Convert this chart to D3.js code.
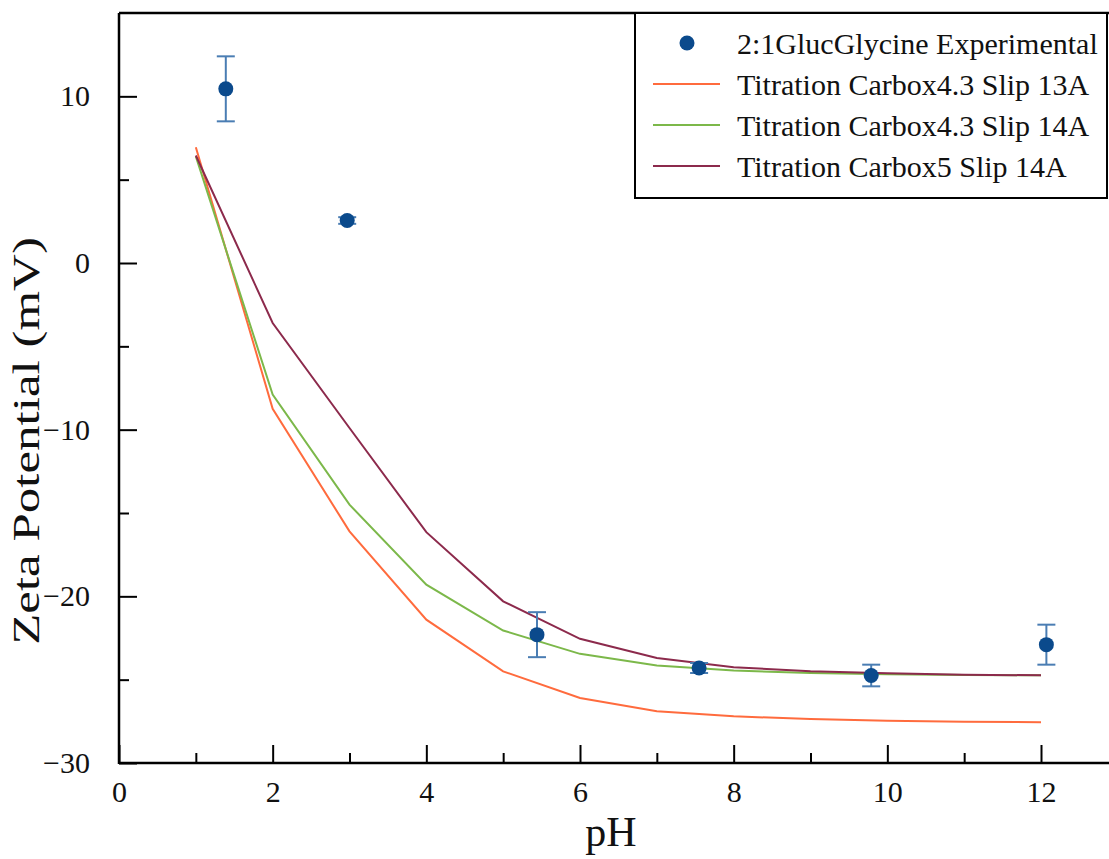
<!DOCTYPE html>
<html>
<head>
<meta charset="utf-8">
<script src="https://cdn.jsdelivr.net/npm/d3@7"></script>
<style>
  html, body { margin: 0; padding: 0; background: #fff; }
  svg { display: block; }
  svg text { font-family: "Liberation Serif", "Times New Roman", serif !important; }
</style>
</head>
<body>
<svg id="chart" width="1109" height="859"></svg>
<script>
// ---- data ----
const expPH    = [1.39, 2.97, 5.44, 7.55, 9.79, 12.07];
const expZeta  = [10.45, 2.55, -22.3, -24.3, -24.75, -22.9];
const expErr   = [1.95, 0.2, 1.35, 0.3, 0.65, 1.2];

const modelPH      = [1, 2, 3, 4, 5, 6, 7, 8, 9, 10, 11, 12];
const carbox43s13  = [6.95, -8.75, -16.1, -21.4, -24.5, -26.1, -26.9, -27.2, -27.36, -27.46, -27.52, -27.55];
const carbox43s14  = [6.4, -7.9, -14.5, -19.3, -22.05, -23.45, -24.15, -24.45, -24.6, -24.68, -24.72, -24.74];
const carbox5s14   = [6.45, -3.6, -9.9, -16.15, -20.3, -22.55, -23.7, -24.25, -24.5, -24.62, -24.7, -24.74];

const seriesNames = ["2:1GlucGlycine Experimental", "Titration Carbox4.3 Slip 13A",
                     "Titration Carbox4.3 Slip 14A", "Titration Carbox5 Slip 14A"];
const xTicks = [0, 2, 4, 6, 8, 10, 12];
const yTicks = [-30, -20, -10, 0, 10];

// ---- layout ----
const FONT = "Liberation Serif, Times New Roman, serif";
const svg = d3.select("#chart");
const L = 119, T = 13, R = 1109, B = 763;
const x = d3.scaleLinear().domain([0, 12.885]).range([L, R]);
const y = d3.scaleLinear().domain([-30, 15]).range([B, T]);

const colors = { exp: "#0b4a8c", err: "#4a7db3", s13: "#ff6b3d", g14: "#7cb84a", m14: "#8c2a4c" };

// ---- series lines ----
const line = d3.line().x(d => x(d[0])).y(d => y(d[1]));
const lineSets = [
  { vals: carbox43s13, color: colors.s13 },
  { vals: carbox43s14, color: colors.g14 },
  { vals: carbox5s14,  color: colors.m14 }
];
lineSets.forEach(s => {
  svg.append("path")
    .datum(modelPH.map((p, i) => [p, s.vals[i]]))
    .attr("d", line)
    .attr("fill", "none")
    .attr("stroke", s.color)
    .attr("stroke-width", 2);
});

// ---- experimental points with error bars ----
const expData = expPH.map((p, i) => ({ p, z: expZeta[i], e: expErr[i] }));
const eg = svg.append("g");
expData.forEach(d => {
  const cx = x(d.p);
  eg.append("line").attr("x1", cx).attr("x2", cx).attr("y1", y(d.z + d.e)).attr("y2", y(d.z - d.e))
    .attr("stroke", colors.err).attr("stroke-width", 2);
  [d.z + d.e, d.z - d.e].forEach(v => {
    eg.append("line").attr("x1", cx - 9).attr("x2", cx + 9).attr("y1", y(v)).attr("y2", y(v))
      .attr("stroke", colors.err).attr("stroke-width", 2);
  });
  eg.append("circle").attr("cx", cx).attr("cy", y(d.z)).attr("r", 7.5).attr("fill", colors.exp);
});

// ---- axes ----
const axisColor = "#000";
const xAxisMajor = d3.axisBottom(x).tickValues(xTicks).tickSizeInner(-18).tickSizeOuter(0).tickPadding(30)
  .tickFormat(d3.format("d"));
const gx = svg.append("g").attr("transform", `translate(0,${B})`).call(xAxisMajor)
  .attr("font-family", FONT).attr("font-size", 30);
gx.select(".domain").remove();
gx.selectAll(".tick line").attr("stroke", axisColor).attr("stroke-width", 2);
gx.selectAll(".tick text").attr("fill", "#111").attr("dy", "0.3em")
  .style("font-family", FONT).style("font-size", "30px");
const xMinor = d3.axisBottom(x).tickValues(d3.range(1, 13, 2)).tickSizeInner(-10).tickSizeOuter(0).tickFormat("");
const gxm = svg.append("g").attr("transform", `translate(0,${B})`).call(xMinor);
gxm.select(".domain").remove();
gxm.selectAll(".tick line").attr("stroke", axisColor).attr("stroke-width", 2);

const fmtMinus = v => (v < 0 ? "\u2212" + Math.abs(v) : String(v));
const yAxisMajor = d3.axisLeft(y).tickValues(yTicks).tickSizeInner(-18).tickSizeOuter(0).tickPadding(29)
  .tickFormat(fmtMinus);
const gy = svg.append("g").attr("transform", `translate(${L},0)`).call(yAxisMajor)
  .attr("font-family", FONT).attr("font-size", 30);
gy.select(".domain").remove();
gy.selectAll(".tick line").attr("stroke", axisColor).attr("stroke-width", 2);
gy.selectAll(".tick text").attr("fill", "#111")
  .style("font-family", FONT).style("font-size", "30px");
const yMinor = d3.axisLeft(y).tickValues([-25, -15, -5, 5]).tickSizeInner(-10).tickSizeOuter(0).tickFormat("");
const gym = svg.append("g").attr("transform", `translate(${L},0)`).call(yMinor);
gym.select(".domain").remove();
gym.selectAll(".tick line").attr("stroke", axisColor).attr("stroke-width", 2);

// frame lines (left, bottom, top)
svg.append("line").attr("x1", L).attr("x2", L).attr("y1", T).attr("y2", B + 1).attr("stroke", axisColor).attr("stroke-width", 2.5);
svg.append("line").attr("x1", L).attr("x2", R).attr("y1", B).attr("y2", B).attr("stroke", axisColor).attr("stroke-width", 2.5);
svg.append("line").attr("x1", L).attr("x2", R).attr("y1", T).attr("y2", T).attr("stroke", axisColor).attr("stroke-width", 2.5);

// ---- axis titles ----
svg.append("text").attr("x", 611).attr("y", 846).attr("text-anchor", "middle")
  .style("font-size", "42px").attr("fill", "#111").text("pH");
svg.append("text").attr("transform", "translate(39,441) rotate(-90) scale(1,0.76)").attr("text-anchor", "middle")
  .style("font-size", "51px").attr("fill", "#111").text("Zeta Potential (mV)");

// ---- legend ----
const lg = svg.append("g");
lg.append("rect").attr("x", 635).attr("y", 13).attr("width", 472).attr("height", 185)
  .attr("fill", "#fff").attr("stroke", "#000").attr("stroke-width", 2);
const rowY = [43, 84, 125, 166];
const legColors = [colors.exp, colors.s13, colors.g14, colors.m14];
seriesNames.forEach((name, i) => {
  if (i === 0) {
    lg.append("circle").attr("cx", 687).attr("cy", rowY[i]).attr("r", 7.5).attr("fill", colors.exp);
  } else {
    lg.append("line").attr("x1", 653).attr("x2", 720).attr("y1", rowY[i]).attr("y2", rowY[i])
      .attr("stroke", legColors[i]).attr("stroke-width", 2);
  }
  lg.append("text").attr("x", 737).attr("y", rowY[i]).attr("dy", "0.35em")
    .style("font-size", "30px").attr("fill", "#111").text(name);
});
</script>
</body>
</html>
